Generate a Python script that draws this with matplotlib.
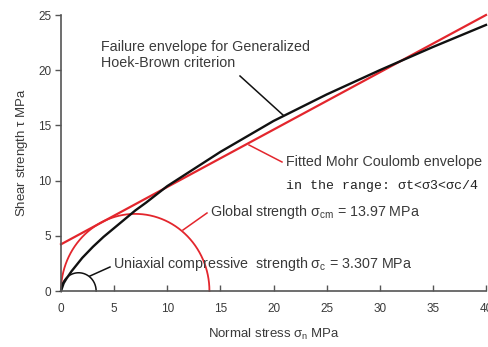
import numpy as np
import matplotlib
matplotlib.use("Agg")
import matplotlib.pyplot as plt
from matplotlib.lines import Line2D

# Hoek-Brown failure envelope
hb_sigma = [0, 0.25, 0.5, 1, 2, 3, 4, 5, 7, 8, 10, 15, 20, 25, 30, 35, 40]
hb_tau = [0, 0.7, 1.1, 1.8, 3.0, 4.0, 4.9, 5.7, 7.3, 8.0, 9.5, 12.6, 15.4, 17.8, 20.0, 22.1, 24.1]

# Fitted Mohr-Coulomb line
mc_sigma = [0, 40]
mc_tau = [4.23, 25.0]

# Mohr circles
sigma_cm = 13.97
sigma_c = 3.307

xticks = [0, 5, 10, 15, 20, 25, 30, 35, 40]
yticks = [0, 5, 10, 15, 20, 25]

RED = "#e3262d"
BLACK = "#111111"
TXT = "#3a3a3a"

plt.rcParams['font.family'] = ['Liberation Sans', 'DejaVu Sans']
plt.rcParams['mathtext.fontset'] = 'custom'
plt.rcParams['mathtext.rm'] = 'Liberation Sans'
plt.rcParams['mathtext.it'] = 'Liberation Sans'
plt.rcParams['mathtext.bf'] = 'Liberation Sans:bold'

fig = plt.figure(figsize=(4.89, 3.47), dpi=100)
ax = fig.add_axes([61/489, 1-291/347, (486-61)/489, (291-15)/347])

# circles
t = np.linspace(0, np.pi, 300)
r1 = sigma_cm / 2
ax.plot(r1 + r1*np.cos(t), r1*np.sin(t), color=RED, lw=1.3, clip_on=False)
r2 = sigma_c / 2
ax.plot(r2 + r2*np.cos(t), r2*np.sin(t), color=BLACK, lw=1.1, clip_on=False)

ax.plot(mc_sigma, mc_tau, color=RED, lw=1.6, clip_on=False)
ax.plot(hb_sigma, hb_tau, color=BLACK, lw=1.7, clip_on=False)

ax.set_xlim(0, 40)
ax.set_ylim(0, 25)
ax.set_xticks(xticks)
ax.set_yticks(yticks)
for s in ['top', 'right']:
    ax.spines[s].set_visible(False)
for s in ['left', 'bottom']:
    ax.spines[s].set_color('#555555')
    ax.spines[s].set_linewidth(1.2)
ax.tick_params(axis='x', direction='in', length=4, width=1, color='#555555',
               labelsize=8.5, labelcolor=TXT, pad=9)
ax.tick_params(axis='y', direction='out', length=4, width=1, color='#555555',
               labelsize=8.5, labelcolor=TXT, pad=3)

ax.set_xlabel(r"Normal stress $\sigma_n$ MPa", fontsize=9.5, color=TXT, labelpad=8)
ax.set_ylabel(r"Shear strength $\tau$ MPa", fontsize=9.5, color=TXT, labelpad=6)

def px(x, y):
    # convert figure pixel coords (top-left origin) to figure fraction
    return (x/489, 1 - y/347)

fs = 10.3
fig.text(*px(101, 55), "Failure envelope for Generalized\nHoek-Brown criterion",
         fontsize=fs, color=TXT, va='center', linespacing=1.1)
fig.text(*px(286, 162), "Fitted Mohr Coulomb envelope", fontsize=fs, color=TXT, va='center')
fig.text(*px(286, 186), "in the range: σt<σ3<σc/4", fontsize=9.5,
         family=['Liberation Mono', 'DejaVu Sans Mono'], color='#222222', va='center')
fig.text(*px(210, 212), r"Global strength $\sigma_{cm}$ = 13.97 MPa", fontsize=fs, color=TXT, va='center')
fig.text(*px(113, 264), r"Uniaxial compressive  strength $\sigma_c$ = 3.307 MPa", fontsize=fs, color=TXT, va='center')

def leader(x0, y0, x1, y1, c):
    a, b = px(x0, y0)
    c2, d = px(x1, y1)
    fig.add_artist(Line2D([a, c2], [b, d], color=c, lw=1.1, transform=fig.transFigure))

leader(240, 76, 283, 115, BLACK)
leader(249, 145, 282, 162, RED)
leader(183, 230, 207, 213, RED)
leader(90, 276, 110, 267, BLACK)

fig.savefig("out.png", dpi=100)
